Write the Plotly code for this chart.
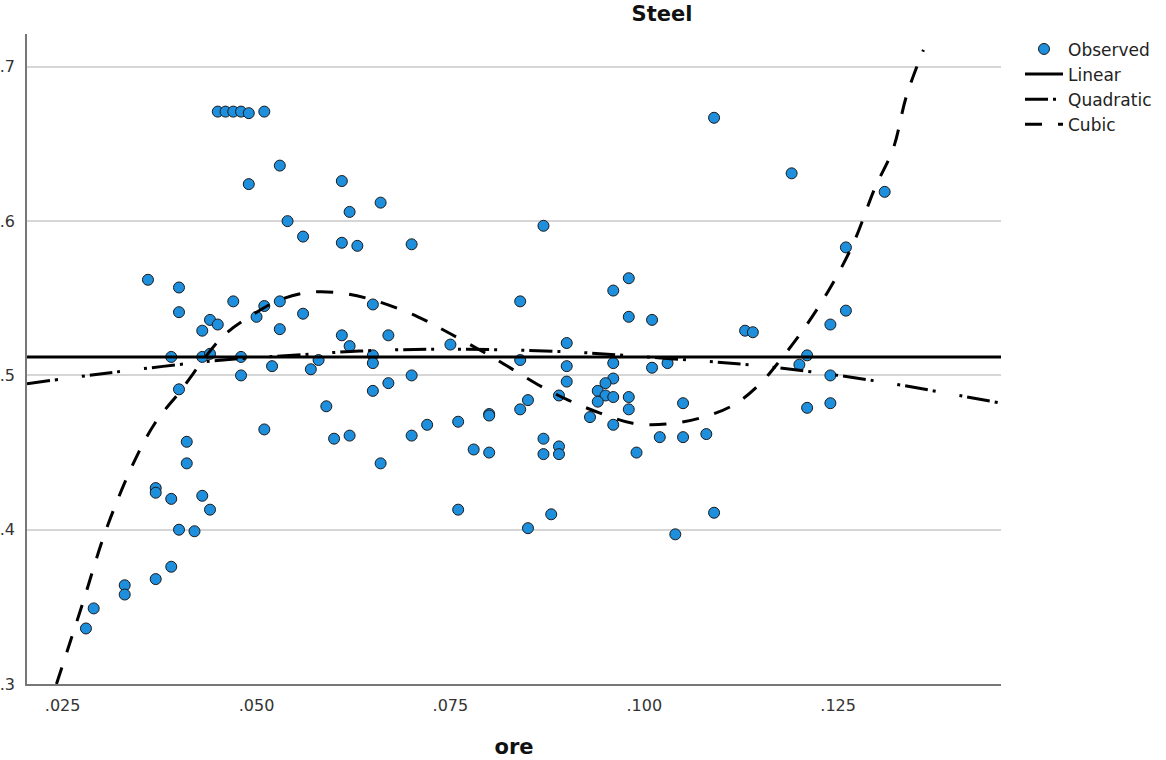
import plotly.graph_objects as go

# ---------------- data ----------------
ore = [
    0.045, 0.046, 0.047, 0.048, 0.049, 0.051, 0.053, 0.049, 0.061, 0.066,
    0.054, 0.062, 0.056, 0.061, 0.063, 0.036, 0.040, 0.040, 0.047, 0.051,
    0.053, 0.050, 0.056, 0.065, 0.044, 0.045, 0.043, 0.053, 0.061, 0.062,
    0.067, 0.039, 0.043, 0.044, 0.048, 0.048, 0.052, 0.057, 0.058, 0.065,
    0.065, 0.067, 0.040, 0.065, 0.059, 0.051, 0.060, 0.062, 0.066, 0.041,
    0.041, 0.037, 0.037, 0.039, 0.043, 0.044, 0.040, 0.042, 0.039, 0.037,
    0.033, 0.033, 0.029, 0.028, 0.087, 0.070, 0.098, 0.096, 0.084, 0.098,
    0.101, 0.113, 0.114, 0.075, 0.090, 0.084, 0.090, 0.096, 0.101, 0.103,
    0.070, 0.090, 0.096, 0.095, 0.094, 0.095, 0.096, 0.098, 0.094, 0.089,
    0.085, 0.084, 0.098, 0.093, 0.096, 0.105, 0.080, 0.080, 0.072, 0.076,
    0.070, 0.078, 0.080, 0.087, 0.087, 0.089, 0.089, 0.099, 0.102, 0.105,
    0.108, 0.076, 0.088, 0.085, 0.104, 0.109, 0.109, 0.119, 0.131, 0.126,
    0.126, 0.124, 0.121, 0.120, 0.124, 0.121, 0.124,
]
steel = [
    0.671, 0.671, 0.671, 0.671, 0.670, 0.671, 0.636, 0.624, 0.626, 0.612,
    0.600, 0.606, 0.590, 0.586, 0.584, 0.562, 0.557, 0.541, 0.548, 0.545,
    0.548, 0.538, 0.540, 0.546, 0.536, 0.533, 0.529, 0.530, 0.526, 0.519,
    0.526, 0.512, 0.512, 0.514, 0.512, 0.500, 0.506, 0.504, 0.510, 0.513,
    0.508, 0.495, 0.491, 0.490, 0.480, 0.465, 0.459, 0.461, 0.443, 0.457,
    0.443, 0.427, 0.424, 0.420, 0.422, 0.413, 0.400, 0.399, 0.376, 0.368,
    0.364, 0.358, 0.349, 0.336, 0.597, 0.585, 0.563, 0.555, 0.548, 0.538,
    0.536, 0.529, 0.528, 0.520, 0.521, 0.510, 0.506, 0.508, 0.505, 0.508,
    0.500, 0.496, 0.498, 0.495, 0.490, 0.487, 0.486, 0.486, 0.483, 0.487,
    0.484, 0.478, 0.478, 0.473, 0.468, 0.482, 0.475, 0.474, 0.468, 0.470,
    0.461, 0.452, 0.450, 0.459, 0.449, 0.454, 0.449, 0.450, 0.460, 0.460,
    0.462, 0.413, 0.410, 0.401, 0.397, 0.411, 0.667, 0.631, 0.619, 0.583,
    0.542, 0.533, 0.513, 0.507, 0.500, 0.479, 0.482,
]

# fitted curves
linear_x = [0.0204, 0.1460]
linear_y = [0.5119, 0.5119]

quad_x = [0.0204, 0.0315, 0.0457, 0.0547, 0.0633, 0.0749, 0.0904, 0.1029,
          0.1153, 0.1291, 0.1460]
quad_y = [0.4946, 0.5020, 0.5100, 0.5130, 0.5158, 0.5170, 0.5152, 0.5110,
          0.5060, 0.4970, 0.4820]

cubic_x = [0.0242, 0.0275, 0.0306, 0.0343, 0.0369, 0.0402, 0.0456, 0.0494,
           0.0530, 0.0571, 0.0615, 0.0656, 0.0708, 0.0750, 0.0807, 0.0863,
           0.0902, 0.0943, 0.0985, 0.1029, 0.1072, 0.1115, 0.1150, 0.1177,
           0.1207, 0.1240, 0.1270, 0.1297, 0.1321, 0.1338, 0.1360]
cubic_y = [0.300, 0.351, 0.400, 0.445, 0.469, 0.490, 0.525, 0.539,
           0.549, 0.554, 0.553, 0.548, 0.538, 0.527, 0.511, 0.494,
           0.484, 0.4756, 0.469, 0.4685, 0.4724, 0.4808, 0.495, 0.511,
           0.531, 0.557, 0.586, 0.621, 0.647, 0.681, 0.711]

x_tick_vals = [0.025, 0.050, 0.075, 0.100, 0.125]
x_tick_text = [".025", ".050", ".075", ".100", ".125"]
y_tick_vals = [0.3, 0.4, 0.5, 0.6, 0.7]
y_tick_text = [".3", ".4", ".5", ".6", ".7"]

FONT = "DejaVu Sans"
PLOT_L, PLOT_W = 27, 974

fig = go.Figure()
fig.add_trace(go.Scatter(
    x=ore, y=steel, mode="markers", name="Observed",
    marker=dict(size=11, color="#1E8FDD", line=dict(color="#1a1a1a", width=1)),
))
fig.add_trace(go.Scatter(
    x=linear_x, y=linear_y, mode="lines", name="Linear",
    line=dict(color="black", width=3),
))
fig.add_trace(go.Scatter(
    x=quad_x, y=quad_y, mode="lines", name="Quadratic",
    line=dict(color="black", width=3, shape="spline",
              dash="23px,5px,3px,24px,3px,5px"),
))
fig.add_trace(go.Scatter(
    x=cubic_x, y=cubic_y, mode="lines", name="Cubic",
    line=dict(color="black", width=3, shape="spline", dash="17px,16px"),
))

fig.update_layout(
    width=1166, height=760,
    margin=dict(l=PLOT_L, r=1166 - PLOT_L - PLOT_W, t=34, b=76, autoexpand=False),
    paper_bgcolor="white", plot_bgcolor="white",
    font=dict(family=FONT, color="#222222"),
    title=dict(text="Steel", x=(662 - PLOT_L) / PLOT_W, xref="paper", xanchor="center",
               y=1 - 14 / 760, yref="container", yanchor="middle",
               font=dict(size=21, weight="bold", color="#111111")),
    showlegend=True,
    legend=dict(x=(1020 - PLOT_L) / PLOT_W, xanchor="left", y=1.004, yanchor="top",
                font=dict(size=17, color="#222222"), bgcolor="rgba(0,0,0,0)",
                itemwidth=38, tracegroupgap=0),
)
fig.update_xaxes(
    range=[0.0204, 0.1460], tickvals=x_tick_vals, ticktext=x_tick_text,
    showgrid=False, zeroline=False, showline=True, linecolor="#777777",
    linewidth=1.5, ticks="", tickfont=dict(size=16, color="#333333"),
    ticklabelstandoff=6,
    title=dict(text="ore", font=dict(size=21, weight="bold", color="#111111"),
               standoff=25),
)
fig.update_yaxes(
    range=[0.3, 0.7213], tickvals=y_tick_vals, ticktext=y_tick_text,
    showgrid=True, gridcolor="#d6d6d6", gridwidth=2, zeroline=False,
    showline=True, linecolor="#777777", linewidth=1.5, ticks="",
    tickfont=dict(size=16, color="#333333"), ticklabelstandoff=7,
)

fig.write_html("out.html")
